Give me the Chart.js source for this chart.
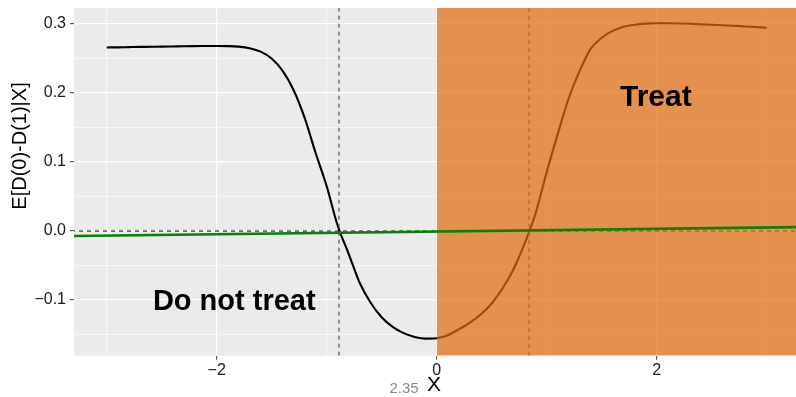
<!DOCTYPE html>
<html>
<head>
<meta charset="utf-8">
<script src="https://cdn.jsdelivr.net/npm/chart.js@4/dist/chart.umd.min.js"></script>
<style>
  html, body { margin: 0; padding: 0; background: #ffffff; }
  #wrap { width: 796px; height: 397px; position: relative; }
</style>
</head>
<body>
<div id="wrap"><canvas id="c" width="796" height="397"></canvas></div>
<script>
// Covariate grid and estimated effect E[D(0)-D(1)|X]
const xs = [
  -3.0, -2.9, -2.8, -2.7, -2.6, -2.5, -2.4, -2.3, -2.2, -2.1,
  -2.0, -1.9, -1.8, -1.7, -1.6, -1.5, -1.4, -1.3, -1.2, -1.1,
  -1.0, -0.9, -0.8, -0.7, -0.6, -0.5, -0.4, -0.3, -0.2, -0.1,
   0.0,  0.1,  0.2,  0.3,  0.4,  0.5,  0.6,  0.7,  0.8,  0.9,
   1.0,  1.1,  1.2,  1.3,  1.4,  1.5,  1.6,  1.7,  1.8,  1.9,
   2.0,  2.1,  2.2,  2.3,  2.4,  2.5,  2.6,  2.7,  2.8,  2.9,
   3.0
];
const effect = [
  0.2660, 0.2662, 0.2665, 0.2668, 0.2670, 0.2672, 0.2675, 0.2678, 0.2680, 0.2681,
  0.2682, 0.2680, 0.2672, 0.2650, 0.2600, 0.2500, 0.2320, 0.2040, 0.1640, 0.1130,
  0.0650, 0.0080, -0.0330, -0.0750, -0.1040, -0.1250, -0.1390, -0.1480, -0.1535, -0.1560,
  -0.1555, -0.1510, -0.1425, -0.1330, -0.1210, -0.1050, -0.0830, -0.0550, -0.0180, 0.0260,
  0.0850, 0.1400, 0.1920, 0.2320, 0.2640, 0.2800, 0.2900, 0.2960, 0.2990, 0.3005,
  0.3010, 0.3010, 0.3008, 0.3003, 0.2995, 0.2990, 0.2982, 0.2975, 0.2965, 0.2956,
  0.2946
];
// Linear fit across the whole range
const trendX = [-3.3, 3.3];
const trendY = [-0.0073, 0.0057];
// Zero crossings of the effect curve
const cutoffs = [-0.888, 0.84];
// Region where treatment is recommended
const treatFrom = 0;
const treatTo = 3.3;
// Axis ticks
const xMajorTicks = [-2, 0, 2];
const xMinorTicks = [-3, -1, 1, 3];
const yMajorTicks = [-0.1, 0.0, 0.1, 0.2, 0.3];
const yMinorTicks = [-0.15, -0.05, 0.05, 0.15, 0.25];
const xRange = [-3.297, 3.267];
const yRange = [-0.1807, 0.3232];

const near = (a, b) => Math.abs(a - b) < 1e-9;
const isMajor = (list, v) => list.some(t => near(t, v));
const fmt = (v, digits) => {
  const s = Math.abs(v).toFixed(digits);
  return (v < -1e-12 ? '\u2212' : '') + s;
};

const FONT = '"Liberation Sans", Arial, Helvetica, sans-serif';

const panelBg = {
  id: 'panelBg',
  beforeDraw(chart) {
    const { ctx, chartArea: a } = chart;
    ctx.save();
    ctx.fillStyle = '#ebebeb';
    ctx.fillRect(a.left, a.top, a.right - a.left, a.bottom - a.top);
    ctx.restore();
  }
};

const labels = {
  id: 'labels',
  afterDatasetsDraw(chart) {
    const { ctx } = chart;
    const xS = chart.scales.x, yS = chart.scales.y;
    ctx.save();
    ctx.fillStyle = '#000';
    ctx.textAlign = 'center';
    ctx.textBaseline = 'alphabetic';
    ctx.font = 'bold 29px ' + FONT;
    ctx.fillText('Do not treat', xS.getPixelForValue(-1.84), yS.getPixelForValue(-0.1143));
    ctx.font = 'bold 30px ' + FONT;
    ctx.fillText('Treat', xS.getPixelForValue(1.993), yS.getPixelForValue(0.1812));
    ctx.restore();
  },
  afterDraw(chart) {
    const { ctx } = chart;
    ctx.save();
    ctx.fillStyle = '#000';
    ctx.textAlign = 'center';
    ctx.textBaseline = 'middle';
    ctx.font = '21px ' + FONT;
    ctx.fillText('X', 434, 385);
    ctx.fillStyle = '#8a8a8a';
    ctx.font = '15px ' + FONT;
    ctx.textBaseline = 'alphabetic';
    ctx.fillText('2.35', 404, 393);
    ctx.translate(20, 146);
    ctx.rotate(-Math.PI / 2);
    ctx.fillStyle = '#000';
    ctx.font = '20px ' + FONT;
    ctx.textBaseline = 'middle';
    ctx.fillText('E[D(0)-D(1)|X]', 0, 0);
    ctx.restore();
  }
};

const curve = xs.map((x, i) => ({ x, y: effect[i] }));
const trend = trendX.map((x, i) => ({ x, y: trendY[i] }));
const vLine = c => [{ x: c, y: yRange[0] }, { x: c, y: yRange[1] }];

new Chart(document.getElementById('c'), {
  type: 'line',
  data: {
    datasets: [
      { label: 'effect', data: curve, borderColor: '#000', borderWidth: 2.1,
        pointRadius: 0, cubicInterpolationMode: 'monotone', order: 6 },
      { label: 'cut1', data: vLine(cutoffs[0]), borderColor: '#444', borderWidth: 1.1,
        borderDash: [4, 4], pointRadius: 0, order: 5 },
      { label: 'cut2', data: vLine(cutoffs[1]), borderColor: '#444', borderWidth: 1.1,
        borderDash: [4, 4], pointRadius: 0, order: 5 },
      { label: 'zero', data: [{ x: xRange[0] - 0.1, y: 0 }, { x: treatTo, y: 0 }],
        borderColor: '#000', borderWidth: 1, borderDash: [4, 4], pointRadius: 0, order: 4 },
      { label: 'treat', data: [{ x: treatFrom, y: yRange[1] }, { x: treatTo, y: yRange[1] }],
        borderWidth: 0, borderColor: 'rgba(0,0,0,0)', backgroundColor: 'rgba(226,106,9,0.70)',
        fill: 'start', pointRadius: 0, order: 3 },
      { label: 'trend', data: trend, borderColor: 'rgb(10,128,10)', borderWidth: 2.6,
        pointRadius: 0, order: 1 }
    ]
  },
  options: {
    responsive: false,
    animation: false,
    devicePixelRatio: 1,
    layout: { padding: { top: 8, right: 0, left: 0, bottom: 0 } },
    plugins: { legend: { display: false }, tooltip: { enabled: false }, filler: { propagate: false } },
    scales: {
      x: {
        type: 'linear', min: xRange[0], max: xRange[1],
        afterBuildTicks: s => { s.ticks = [...xMajorTicks, ...xMinorTicks].sort((a, b) => a - b).map(v => ({ value: v })); },
        afterFit: s => { s.height = 41.3; s.paddingLeft = 0; s.paddingRight = 0; },
        ticks: {
          autoSkip: false, maxRotation: 0, padding: 1, color: '#1a1a1a',
          font: { family: FONT, size: 16 },
          callback: v => isMajor(xMajorTicks, v) ? fmt(v, 0) : ''
        },
        grid: {
          color: '#ffffff',
          lineWidth: c => (c.tick && isMajor(xMajorTicks, c.tick.value)) ? 1.2 : 0.6,
          tickColor: c => (c.tick && isMajor(xMajorTicks, c.tick.value)) ? '#4d4d4d' : 'rgba(0,0,0,0)',
          tickLength: 4, tickWidth: 1.1
        },
        border: { display: false }
      },
      y: {
        type: 'linear', min: yRange[0], max: yRange[1],
        afterBuildTicks: s => { s.ticks = [...yMajorTicks, ...yMinorTicks].sort((a, b) => a - b).map(v => ({ value: v })); },
        afterFit: s => { s.width = 74; s.paddingTop = 0; s.paddingBottom = 0; },
        ticks: {
          autoSkip: false, padding: 4, color: '#1a1a1a',
          font: { family: FONT, size: 16 },
          callback: v => isMajor(yMajorTicks, v) ? fmt(v, 1) : ''
        },
        grid: {
          color: '#ffffff',
          lineWidth: c => (c.tick && isMajor(yMajorTicks, c.tick.value)) ? 1.2 : 0.6,
          tickColor: c => (c.tick && isMajor(yMajorTicks, c.tick.value)) ? '#4d4d4d' : 'rgba(0,0,0,0)',
          tickLength: 4, tickWidth: 1.1
        },
        border: { display: false }
      }
    }
  },
  plugins: [panelBg, labels]
});
</script>
</body>
</html>
